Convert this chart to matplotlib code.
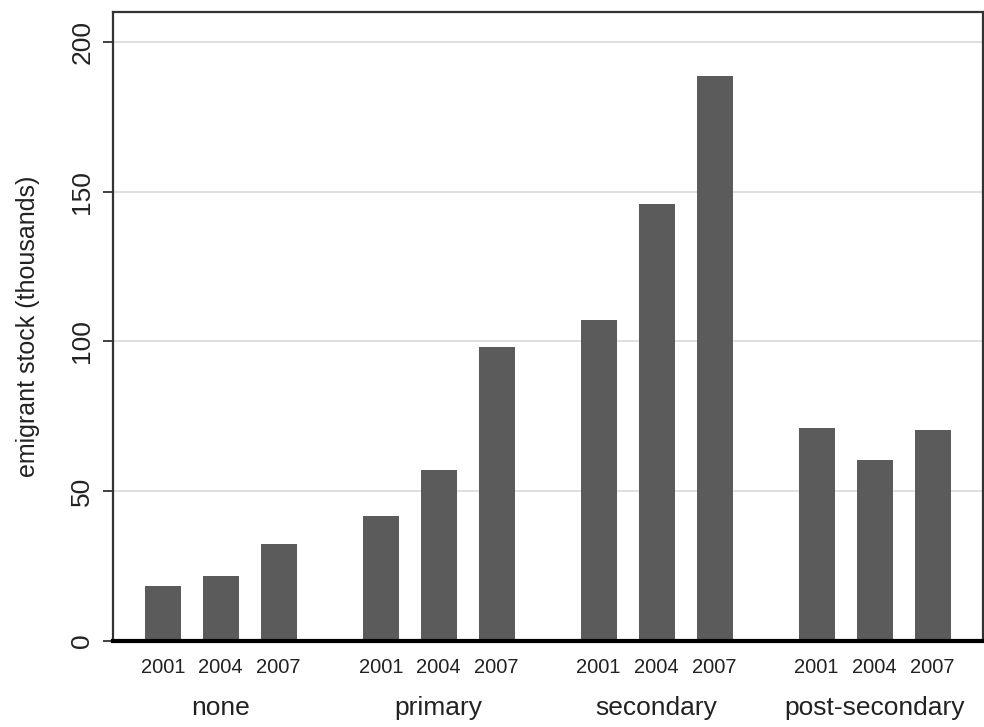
import matplotlib.pyplot as plt

plt.rcParams['font.family'] = ['Liberation Sans', 'DejaVu Sans']

# Data
groups = ['none', 'primary', 'secondary', 'post-secondary']
years = ['2001', '2004', '2007']
none_vals = [18.4, 21.8, 32.3]
primary_vals = [41.8, 57.2, 98.3]
secondary_vals = [107.3, 145.9, 188.7]
postsec_vals = [71.0, 60.4, 70.3]
values = [none_vals, primary_vals, secondary_vals, postsec_vals]
yticks = [0, 50, 100, 150, 200]

# Layout
step = 3.76
width = 0.62
bar_color = '#5b5b5b'

fig = plt.figure(figsize=(9.84, 7.27), dpi=100)
ax = fig.add_axes([0.1148, 0.1183, 0.8842, 0.8652])

xs, hs, labels = [], [], []
for g, vals in enumerate(values):
    for j, v in enumerate(vals):
        xs.append(g * step + j)
        hs.append(v)
        labels.append(years[j])
ax.bar(xs, hs, width=width, color=bar_color, zorder=2)

# group labels
for g, name in enumerate(groups):
    ax.text(g * step + 1, -0.1065, name, transform=ax.get_xaxis_transform(),
            ha='center', va='center', fontsize=19, color='#222222')

ax.set_xlim(-0.86, (len(groups) - 1) * step + 2 + 0.87)
ax.set_ylim(0, 210)
ax.set_xticks(xs)
ax.set_xticklabels(labels, fontsize=14.5, color='#222222')
ax.tick_params(axis='x', length=0, pad=12)

ax.set_yticks(yticks)
ax.set_yticklabels([str(t) for t in yticks], fontsize=19, color='#222222',
                   rotation=90, va='center')
ax.tick_params(axis='y', length=7.5, width=1.3, color='#333333', pad=6)

ax.yaxis.grid(True, color='#dcdcdc', lw=1.3)
ax.set_axisbelow(True)

for side in ['left', 'top', 'right']:
    ax.spines[side].set_linewidth(1.6)
    ax.spines[side].set_color('#333333')
ax.spines['bottom'].set_linewidth(3)
ax.spines['bottom'].set_color('black')

ax.set_ylabel('emigrant stock (thousands)', fontsize=18, color='#222222')
ax.yaxis.set_label_coords(-0.0976, 0.5)
ax.yaxis.label.set_va('center')

plt.savefig('out.png', dpi=100)
